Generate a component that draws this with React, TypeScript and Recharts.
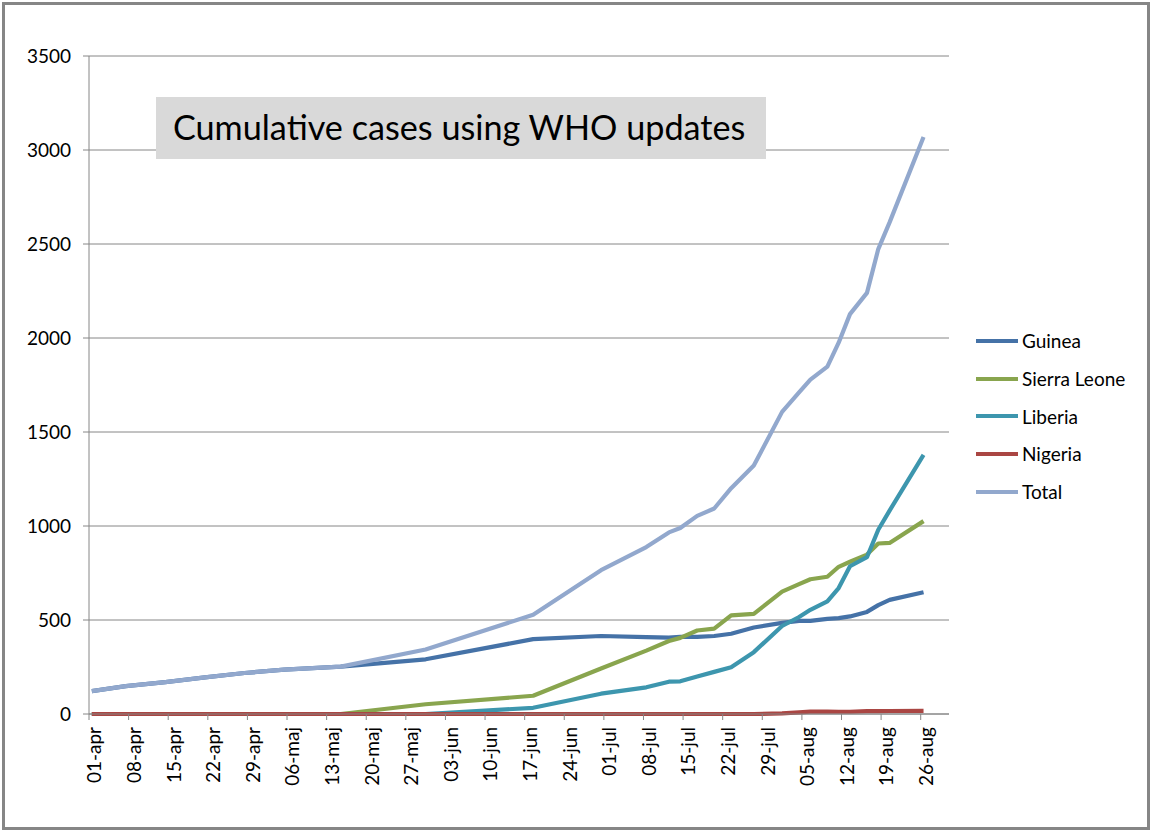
// Cumulative Ebola cases per country, WHO updates, Apr-Aug 2014
import { LineChart, Line, XAxis, YAxis, CartesianGrid, Legend } from 'recharts';

const dates = [
  '2014-04-01', '2014-04-07', '2014-04-14', '2014-04-21', '2014-04-28', '2014-05-05',
  '2014-05-15', '2014-05-30', '2014-06-18', '2014-06-30', '2014-07-08', '2014-07-12',
  '2014-07-14', '2014-07-17', '2014-07-20', '2014-07-23', '2014-07-27', '2014-08-01',
  '2014-08-04', '2014-08-06', '2014-08-09', '2014-08-11', '2014-08-13', '2014-08-16',
  '2014-08-18', '2014-08-20', '2014-08-26',
];
const guinea = [122, 148, 170, 195, 218, 236, 252, 291, 398, 415, 409, 406, 410, 410, 415, 427, 460, 485, 495, 495, 506, 510, 519, 543, 579, 607, 648];
const sierraLeone = [0, 0, 0, 0, 0, 0, 0, 52, 97, 242, 337, 388, 405, 444, 454, 525, 533, 651, 691, 717, 730, 783, 810, 848, 907, 910, 1026];
const liberia = [0, 0, 0, 0, 0, 0, 0, 0, 33, 108, 142, 172, 174, 200, 224, 249, 329, 468, 516, 554, 599, 670, 786, 834, 980, 1082, 1378];
const nigeria = [0, 0, 0, 0, 0, 0, 0, 0, 0, 0, 0, 0, 0, 0, 0, 0, 0, 3, 9, 13, 13, 12, 12, 15, 15, 16, 17];
const total = [122, 148, 170, 195, 218, 236, 252, 343, 528, 765, 888, 966, 989, 1054, 1093, 1201, 1322, 1607, 1711, 1779, 1848, 1975, 2127, 2240, 2473, 2615, 3069];

const tickLabels = [
  '01-apr', '08-apr', '15-apr', '22-apr', '29-apr', '06-maj', '13-maj', '20-maj', '27-maj',
  '03-jun', '10-jun', '17-jun', '24-jun', '01-jul', '08-jul', '15-jul', '22-jul', '29-jul',
  '05-aug', '12-aug', '19-aug', '26-aug',
];
const yTicks = [0, 500, 1000, 1500, 2000, 2500, 3000, 3500];

const series = [
  { key: 'Guinea', values: guinea, color: '#4572A7' },
  { key: 'Sierra Leone', values: sierraLeone, color: '#89A54E' },
  { key: 'Liberia', values: liberia, color: '#3D96AE' },
  { key: 'Nigeria', values: nigeria, color: '#AA4643' },
  { key: 'Total', values: total, color: '#92A8CD' },
];

const W = 1152;
const H = 833;
const PLOT_LEFT = 89;
const PLOT_RIGHT = 949;
const PLOT_TOP = 56;
const PLOT_BOTTOM = 714;
const DAYS_ON_AXIS = 152;
const DAY_PX = (PLOT_RIGHT - PLOT_LEFT) / DAYS_ON_AXIS;
const AXIS = '#868686';
const FONT = 'Lato, "Open Sans", sans-serif';

const START = Date.UTC(2014, 3, 1);
function dayOf(iso: string): number {
  const [y, m, d] = iso.split('-').map(Number);
  return Math.round((Date.UTC(y, m - 1, d) - START) / 86400000);
}

const data = dates.map((d, i) => {
  const row: Record<string, number> = { day: dayOf(d) };
  series.forEach((s) => {
    row[s.key] = s.values[i];
  });
  return row;
});

const xTicks = tickLabels.map((_, i) => i * 7);

function DateTick({ x, payload }: any) {
  const label = tickLabels[Math.round(payload.value / 7)];
  const tx = x - DAY_PX / 2;
  return (
    <g>
      <line x1={tx} x2={tx} y1={PLOT_BOTTOM} y2={PLOT_BOTTOM + 6} stroke={AXIS} strokeWidth={1} />
      <text
        transform={`translate(${x + 9.5},${PLOT_BOTTOM + 13}) rotate(-90)`}
        textAnchor="end"
        fontFamily={FONT}
        fontSize={19}
        fill="#000"
      >
        {label}
      </text>
    </g>
  );
}

function ValueTick({ y, payload }: any) {
  return (
    <text x={71} y={y + 6.5} textAnchor="end" fontFamily={FONT} fontSize={19} fill="#000">
      {payload.value}
    </text>
  );
}

// drawn in series order (Recharts would sort the payload by name)
function LegendBox() {
  return (
    <div style={{ fontFamily: FONT, fontSize: 19, color: '#000' }}>
      {series.map((s) => (
        <div key={s.key} style={{ display: 'flex', alignItems: 'center', height: 37.7 }}>
          <svg width={42} height={6} style={{ display: 'block' }}>
            <line x1={0} x2={42} y1={3} y2={3} stroke={s.color} strokeWidth={4} />
          </svg>
          <span style={{ marginLeft: 4, whiteSpace: 'nowrap' }}>{s.key}</span>
        </div>
      ))}
    </div>
  );
}

export default function App() {
  return (
    <div style={{ position: 'absolute', left: 0, top: 0, width: W, height: H, background: '#fff' }}>
      <LineChart
        width={W}
        height={H}
        data={data}
        margin={{ top: PLOT_TOP, right: W - PLOT_RIGHT, bottom: H - PLOT_BOTTOM - 80, left: 0 }}
      >
        <CartesianGrid vertical={false} stroke={AXIS} strokeWidth={1} />
        <XAxis
          dataKey="day"
          type="number"
          domain={[-0.5, DAYS_ON_AXIS - 0.5]}
          ticks={xTicks}
          interval={0}
          height={80}
          axisLine={{ stroke: AXIS }}
          tickLine={false}
          tick={<DateTick />}
        />
        <YAxis
          type="number"
          domain={[0, 3500]}
          ticks={yTicks}
          interval={0}
          width={PLOT_LEFT}
          axisLine={{ stroke: AXIS }}
          tickLine={{ stroke: AXIS }}
          tickSize={6}
          tick={<ValueTick />}
        />
        <Legend
          layout="vertical"
          align="center"
          verticalAlign="middle"
          content={<LegendBox />}
          wrapperStyle={{ left: 976, top: 322, width: 170, height: 190 }}
        />
        {series.map((s) => (
          <Line
            key={s.key}
            type="linear"
            dataKey={s.key}
            name={s.key}
            stroke={s.color}
            strokeWidth={4.2}
            strokeLinejoin="round"
            dot={false}
            activeDot={false}
            isAnimationActive={false}
          />
        ))}
      </LineChart>
      <div
        style={{
          position: 'absolute',
          left: 156,
          top: 97,
          width: 610,
          height: 62,
          background: '#d9d9d9',
          fontFamily: FONT,
          fontSize: 34.2,
          lineHeight: '60px',
          paddingLeft: 17,
          boxSizing: 'border-box',
          color: '#000',
          whiteSpace: 'nowrap',
        }}
      >
        Cumulative cases using WHO updates
      </div>
      <div
        style={{
          position: 'absolute',
          left: 2,
          top: 2,
          width: W - 4,
          height: H - 5,
          border: `3px solid ${AXIS}`,
          boxSizing: 'border-box',
          pointerEvents: 'none',
        }}
      />
    </div>
  );
}
